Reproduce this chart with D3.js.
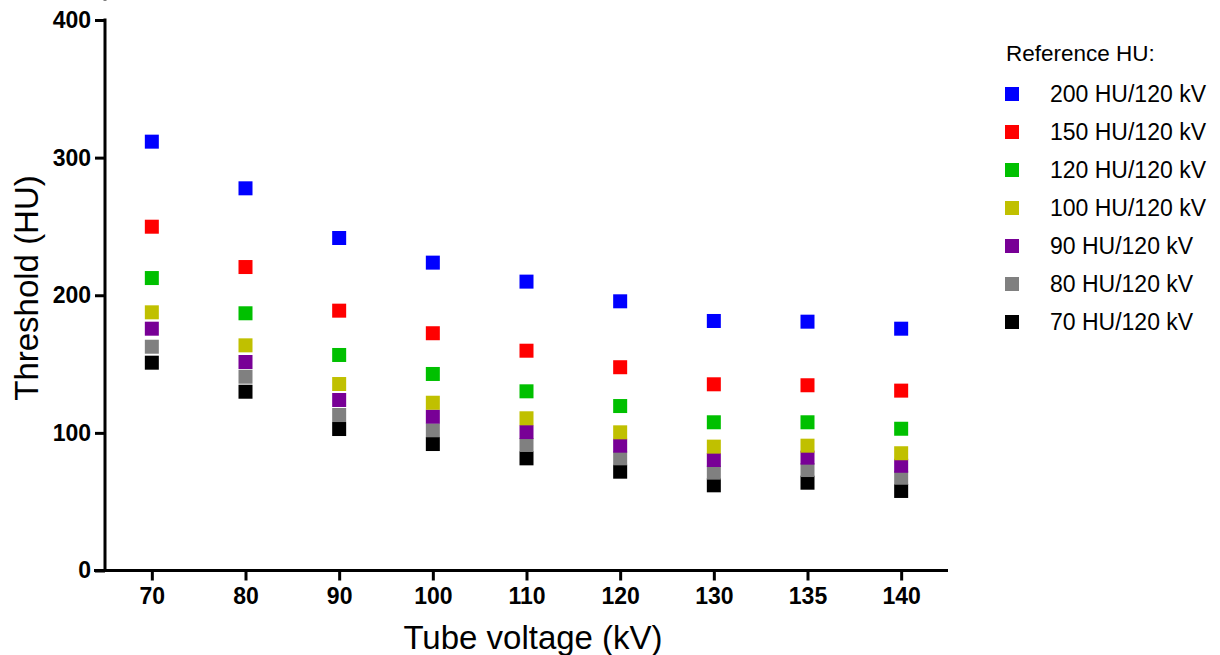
<!DOCTYPE html>
<html>
<head>
<meta charset="utf-8">
<script src="https://cdn.jsdelivr.net/npm/d3@7"></script>
<style>
  body { margin: 0; background: #fff; }
  svg { font-family: "Liberation Sans", Arial, sans-serif; }
</style>
</head>
<body>
<script>
var voltages = ["70", "80", "90", "100", "110", "120", "130", "135", "140"];
var seriesNames = ["200 HU/120 kV", "150 HU/120 kV", "120 HU/120 kV", "100 HU/120 kV", "90 HU/120 kV", "80 HU/120 kV", "70 HU/120 kV"];
var seriesColors = ["#0000ff", "#ff0000", "#00c000", "#c0c000", "#780096", "#808080", "#000000"];
var hu200 = [311.6, 277.7, 241.6, 223.7, 209.9, 195.6, 181.3, 180.8, 175.7];
var hu150 = [249.8, 220.5, 188.8, 172.4, 159.7, 147.7, 135.3, 134.6, 130.7];
var hu120 = [212.5, 186.9, 156.6, 142.8, 130.2, 119.5, 107.7, 107.7, 103.0];
var hu100 = [187.6, 163.6, 135.5, 121.9, 110.6, 100.4, 90.0, 90.7, 85.2];
var hu90 = [175.7, 151.5, 123.9, 111.8, 100.6, 90.7, 80.3, 82.0, 76.1];
var hu80 = [162.6, 140.8, 113.0, 101.9, 91.2, 81.5, 71.1, 73.0, 67.4];
var hu70 = [151.0, 129.9, 102.8, 91.9, 81.5, 71.8, 61.9, 63.8, 57.8];
var yTicks = [0, 100, 200, 300, 400];

var allSeries = [hu200, hu150, hu120, hu100, hu90, hu80, hu70];

var width = 1220, height = 655;
var svg = d3.select("body").append("svg")
    .attr("width", width)
    .attr("height", height);

var x = d3.scalePoint().domain(voltages).range([105, 948]).padding(0.5);
var y = d3.scaleLinear().domain([0, 400]).range([570.5, 20]);

// points, drawn bottom series first so upper squares sit on top
var markSize = 14;
for (var s = allSeries.length - 1; s >= 0; s--) {
    svg.append("g").selectAll("rect")
        .data(allSeries[s])
        .enter()
        .append("rect")
        .attr("x", function(d, i) { return x(voltages[i]) - markSize / 2 })
        .attr("y", function(d) { return y(d) - markSize / 2 })
        .attr("width", markSize)
        .attr("height", markSize)
        .attr("fill", seriesColors[s]);
}

var yAxis = svg.append("g")
    .attr("transform", "translate(105,0)")
    .call(d3.axisLeft(y).tickValues(yTicks).tickSize(10).tickPadding(4));
var xAxis = svg.append("g")
    .attr("transform", "translate(0,570.5)")
    .call(d3.axisBottom(x).tickSize(10).tickPadding(4));

[xAxis, yAxis].forEach(function(a) {
    a.select(".domain").attr("stroke", "#000").attr("stroke-width", 3);
    a.selectAll(".tick line").attr("stroke", "#000").attr("stroke-width", 3);
    a.selectAll(".tick text")
        .attr("fill", "#000")
        .style("font-size", "23px")
        .style("font-weight", "bold")
        .style("font-family", "'Liberation Sans', Arial, sans-serif");
});
// extend x domain to meet y axis tick
xAxis.select(".domain").attr("d", "M94,0H948");
yAxis.select(".domain").attr("d", "M0,-1.5V0.5");
svg.append("line")
    .attr("x1", 105).attr("x2", 105)
    .attr("y1", y(400) - 1.5).attr("y2", y(0) + 1.5)
    .attr("stroke", "#000").attr("stroke-width", 3);
xAxis.selectAll(".tick text").attr("dy", "0.85em");

svg.append("text")
    .attr("x", 533)
    .attr("y", 649)
    .attr("text-anchor", "middle")
    .style("font-size", "33px")
    .text("Tube voltage (kV)");

svg.append("text")
    .attr("transform", "translate(38,288) rotate(-90)")
    .attr("text-anchor", "middle")
    .style("font-size", "33px")
    .text("Threshold (HU)");

// legend
var legend = svg.append("g");
legend.append("text")
    .attr("x", 1006)
    .attr("y", 61)
    .style("font-size", "22.5px")
    .text("Reference HU:");
var rows = legend.selectAll("g.row")
    .data(seriesNames)
    .enter()
    .append("g")
    .attr("class", "row")
    .attr("transform", function(d, i) { return "translate(0," + (94 + i * 38) + ")" });
rows.append("rect")
    .attr("x", 1005)
    .attr("y", -7)
    .attr("width", 14)
    .attr("height", 14)
    .attr("fill", function(d, i) { return seriesColors[i] });
rows.append("text")
    .attr("x", 1050)
    .attr("y", 8)
    .style("font-size", "23px")
    .text(function(d) { return d });
</script>
</body>
</html>
